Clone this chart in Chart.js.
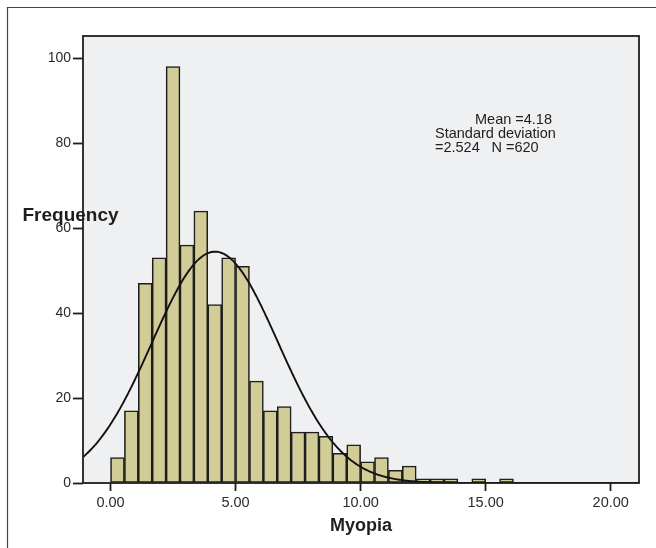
<!DOCTYPE html>
<html>
<head>
<meta charset="utf-8">
<script src="https://cdn.jsdelivr.net/npm/chart.js@4/dist/chart.umd.min.js"></script>
<style>
  html, body { margin: 0; padding: 0; background: #ffffff; }
  canvas { display: block; }
</style>
</head>
<body>
<canvas id="hist" width="656" height="548"></canvas>
<script>
// histogram bins: first edge and width, then counts per bin
const FIRST_EDGE = 0;
const BIN_WIDTH = 5 / 9;
const COUNTS = [6, 17, 47, 53, 98, 56, 64, 42, 53, 51, 24, 17, 18, 12, 12, 11, 7, 9,
                5, 6, 3, 4, 1, 1, 1, 0, 1, 0, 1];

// summary statistics shown in the plot
const MEAN = 4.18;
const SD = 2.524;
const N = 620;

const X_TICKS = [0, 5, 10, 15, 20];
const Y_TICKS = [0, 20, 40, 60, 80, 100];
const X_MIN = -1.1;
const X_MAX = 21.13;
const Y_MAX = 105.2;

const FONT = "'Liberation Sans', Arial, Helvetica, sans-serif";
const BAR_FILL = "#d2cc96";
const PLOT_BG = "#eff0f2";
const INK = "#1e1e1e";

const barPoints = COUNTS.map((c, i) => ({ x: FIRST_EDGE + (i + 0.5) * BIN_WIDTH, y: c }));

// normal curve scaled to counts per bin
const normalCurve = [];
for (let x = X_MIN; x <= X_MAX + 1e-9; x += 0.05) {
  const z = (x - MEAN) / SD;
  const pdf = Math.exp(-0.5 * z * z) / (SD * Math.sqrt(2 * Math.PI));
  normalCurve.push({ x, y: N * BIN_WIDTH * pdf });
}

const plotFrame = {
  id: "plotFrame",
  beforeDatasetsDraw(chart) {
    const { ctx, chartArea: a } = chart;
    ctx.save();
    ctx.fillStyle = PLOT_BG;
    ctx.fillRect(a.left, a.top, a.right - a.left, a.bottom - a.top);
    ctx.restore();
  },
  afterDraw(chart) {
    const { ctx, chartArea: a } = chart;
    ctx.save();
    // outer figure border (top and left edges)
    ctx.strokeStyle = "#444";
    ctx.lineWidth = 1.2;
    ctx.beginPath();
    ctx.moveTo(656, 7.5);
    ctx.lineTo(7.5, 7.5);
    ctx.lineTo(7.5, 548);
    ctx.stroke();

    ctx.strokeStyle = INK;
    ctx.lineWidth = 1.8;
    ctx.strokeRect(a.left, a.top, a.right - a.left, a.bottom - a.top);

    ctx.fillStyle = INK;
    ctx.textAlign = "left";
    ctx.textBaseline = "alphabetic";
    ctx.font = "bold 19px " + FONT;
    ctx.fillText("Frequency", 22.5, 221);

    ctx.textAlign = "center";
    ctx.font = "bold 18px " + FONT;
    ctx.fillText("Myopia", (a.left + a.right) / 2, 530.5);

    ctx.textAlign = "left";
    ctx.font = "14.5px " + FONT;
    ctx.fillText("Mean =" + MEAN.toFixed(2), 475, 124);
    ctx.fillText("Standard deviation", 435, 137.5);
    ctx.fillText("=" + SD.toFixed(3), 435, 151.5);
    ctx.fillText("N =" + N, 491.5, 151.5);
    ctx.restore();
  },
};

new Chart(document.getElementById("hist"), {
  data: {
    datasets: [
      {
        type: "line",
        data: normalCurve,
        borderColor: "#111111",
        borderWidth: 1.9,
        pointRadius: 0,
        tension: 0,
        order: 0,
      },
      {
        type: "bar",
        data: barPoints,
        backgroundColor: BAR_FILL,
        borderColor: INK,
        borderWidth: 1.6,
        borderSkipped: false,
        barPercentage: 1,
        categoryPercentage: 1,
        order: 1,
      },
    ],
  },
  options: {
    responsive: false,
    animation: false,
    devicePixelRatio: 1,
    layout: { padding: { left: 0, top: 36, right: 17, bottom: 0 } },
    plugins: { legend: { display: false }, tooltip: { enabled: false } },
    scales: {
      x: {
        type: "linear",
        offset: false,
        min: X_MIN,
        max: X_MAX,
        afterBuildTicks: (s) => { s.ticks = X_TICKS.map((v) => ({ value: v })); },
        afterFit: (s) => { s.height = 65; },
        grid: { offset: false, drawOnChartArea: false, tickLength: 8, tickColor: INK, tickWidth: 1.8 },
        border: { display: false },
        ticks: {
          padding: 3,
          color: "#2a2a2a",
          font: { family: FONT, size: 14.5 },
          callback: (v) => Number(v).toFixed(2),
        },
      },
      y: {
        type: "linear",
        min: 0,
        max: Y_MAX,
        afterBuildTicks: (s) => { s.ticks = Y_TICKS.map((v) => ({ value: v })); },
        afterFit: (s) => { s.width = 83; },
        grid: { drawOnChartArea: false, tickLength: 10, tickColor: INK, tickWidth: 1.8 },
        border: { display: false },
        ticks: {
          padding: 2,
          color: "#2a2a2a",
          font: { family: FONT, size: 14 },
        },
      },
    },
  },
  plugins: [plotFrame],
});
</script>
</body>
</html>
